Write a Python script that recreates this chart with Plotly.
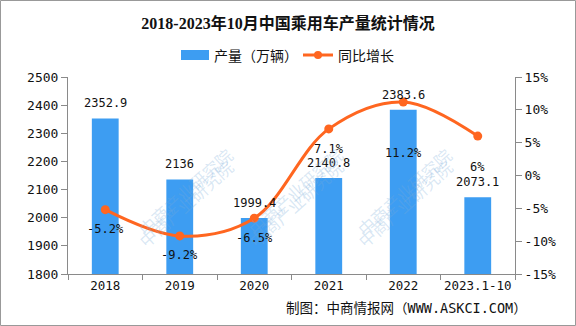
import plotly.graph_objects as go

categories = ["2018", "2019", "2020", "2021", "2022", "2023.1-10"]
production = [2352.9, 2136, 1999.4, 2140.8, 2383.6, 2073.1]
growth = [-5.2, -9.2, -6.5, 7.1, 11.2, 6.0]
growth_labels = ["-5.2%", "-9.2%", "-6.5%", "7.1%", "11.2%", "6%"]
y1_ticks = [1800, 1900, 2000, 2100, 2200, 2300, 2400, 2500]
y2_ticks = [-15, -10, -5, 0, 5, 10, 15]
y2_ticktext = ["-15%", "-10%", "-5%", "0%", "5%", "10%", "15%"]
series_names = ["产量（万辆）", "同比增长"]

W, H = 576, 326
ML, MR, MT, MB = 68, 61, 77, 52
PW, PH = W - ML - MR, H - MT - MB

MONO = "DejaVu Sans Mono, Noto Sans CJK SC, sans-serif"
CJK = "Noto Sans CJK SC, sans-serif"
BAR_C = "#3D9DF2"
LINE_C = "#FF6620"
AX_C = "#8a8a8a"


def px(x):
    return (x - ML) / PW


def py(y):
    return 1 - (y - MT) / PH


xi = list(range(len(categories)))
bounds = [i - 0.5 for i in range(len(categories) + 1)]

fig = go.Figure()
fig.add_trace(go.Bar(x=xi, y=production, name=series_names[0],
                     marker=dict(color=BAR_C, line=dict(width=0)), width=0.36))
fig.add_trace(go.Scatter(x=xi, y=growth, name=series_names[1], yaxis="y2",
                         mode="lines+markers",
                         line=dict(color=LINE_C, width=3, shape="spline", smoothing=1.0),
                         marker=dict(color=LINE_C, size=9)))

# bar value labels
for i, v in zip(xi, production):
    fig.add_annotation(x=i, y=v, xref="x", yref="y", text=f"{v:g}", showarrow=False,
                       yshift=15, font=dict(family=MONO, size=12, color="#111"))
# growth labels (below points)
label_drop = [19, 19, 20, 20, 51, 31]
for i, v, t, d in zip(xi, growth, growth_labels, label_drop):
    fig.add_annotation(x=i, y=v, xref="x", yref="y2", text=t, showarrow=False,
                       yshift=-d, font=dict(family=MONO, size=12, color="#111"))

# watermarks
for wy in [140, 255]:
    for wx in [130, 295, 460]:
        fig.add_annotation(xref="paper", yref="paper", x=px(wx), y=py(wy),
                           text="中商产业研究院", showarrow=False, textangle=-42,
                           font=dict(family=CJK, size=17, color="rgba(120,170,215,0.28)"))

# custom legend
fig.add_shape(type="rect", xref="paper", yref="paper",
              x0=px(181), x1=px(209), y0=py(60), y1=py(50),
              fillcolor=BAR_C, line=dict(width=0))
fig.add_annotation(xref="paper", yref="paper", x=px(212), y=py(55), xanchor="left",
                   yanchor="middle", text=series_names[0], showarrow=False,
                   font=dict(family=CJK, size=14, color="#111"))
fig.add_shape(type="line", xref="paper", yref="paper",
              x0=px(303), x1=px(333), y0=py(55), y1=py(55),
              line=dict(color=LINE_C, width=3))
fig.add_shape(type="circle", xref="paper", yref="paper",
              x0=px(314), x1=px(322), y0=py(59), y1=py(51),
              fillcolor=LINE_C, line=dict(width=0))
fig.add_annotation(xref="paper", yref="paper", x=px(336), y=py(55), xanchor="left",
                   yanchor="middle", text=series_names[1], showarrow=False,
                   font=dict(family=CJK, size=14, color="#111"))

# source
fig.add_annotation(xref="paper", yref="paper", x=px(529), y=py(308),
                   xanchor="right", yanchor="middle", showarrow=False,
                   text="制图：中商情报网（WWW.ASKCI.COM）",
                   font=dict(family=MONO, size=13.5, color="#111"))

# border
fig.add_shape(type="rect", xref="paper", yref="paper",
              x0=px(0.5), x1=px(W - 0.5), y0=py(H - 0.5), y1=py(0.5),
              line=dict(color="#999999", width=1), layer="below")

fig.update_layout(
    width=W, height=H,
    margin=dict(l=ML, r=MR, t=MT, b=MB),
    paper_bgcolor="white", plot_bgcolor="white",
    font=dict(family=MONO, size=12.5, color="#111"),
    title=dict(text="<b>2018-2023年10月中国乘用车产量统计情况</b>",
               x=0.5, xanchor="center", y=1 - 23 / H, yanchor="middle",
               font=dict(family="Liberation Serif, Noto Sans CJK SC, serif", size=16, color="#111")),
    showlegend=False,
    xaxis=dict(range=[-0.5, len(categories) - 0.5], tickvals=xi, ticktext=categories,
               showline=True, linecolor=AX_C, linewidth=1, ticks="",
               minor=dict(tickvals=bounds, ticks="outside", ticklen=5, tickcolor=AX_C, showgrid=False),
               showgrid=False, zeroline=False,
               tickfont=dict(family=MONO, size=12.5, color="#111")),
    yaxis=dict(range=[1800, 2500], tickvals=y1_ticks, showline=True, linecolor=AX_C,
               ticks="outside", ticklen=6, tickcolor=AX_C, showgrid=False, zeroline=False,
               tickfont=dict(family=MONO, size=13, color="#111")),
    yaxis2=dict(range=[-15, 15], overlaying="y", side="right", tickvals=y2_ticks,
                ticktext=y2_ticktext, showline=True, linecolor=AX_C, ticks="outside",
                ticklen=6, tickcolor=AX_C, showgrid=False, zeroline=False,
                tickfont=dict(family=MONO, size=13, color="#111")),
)

fig.write_html("out.html")
